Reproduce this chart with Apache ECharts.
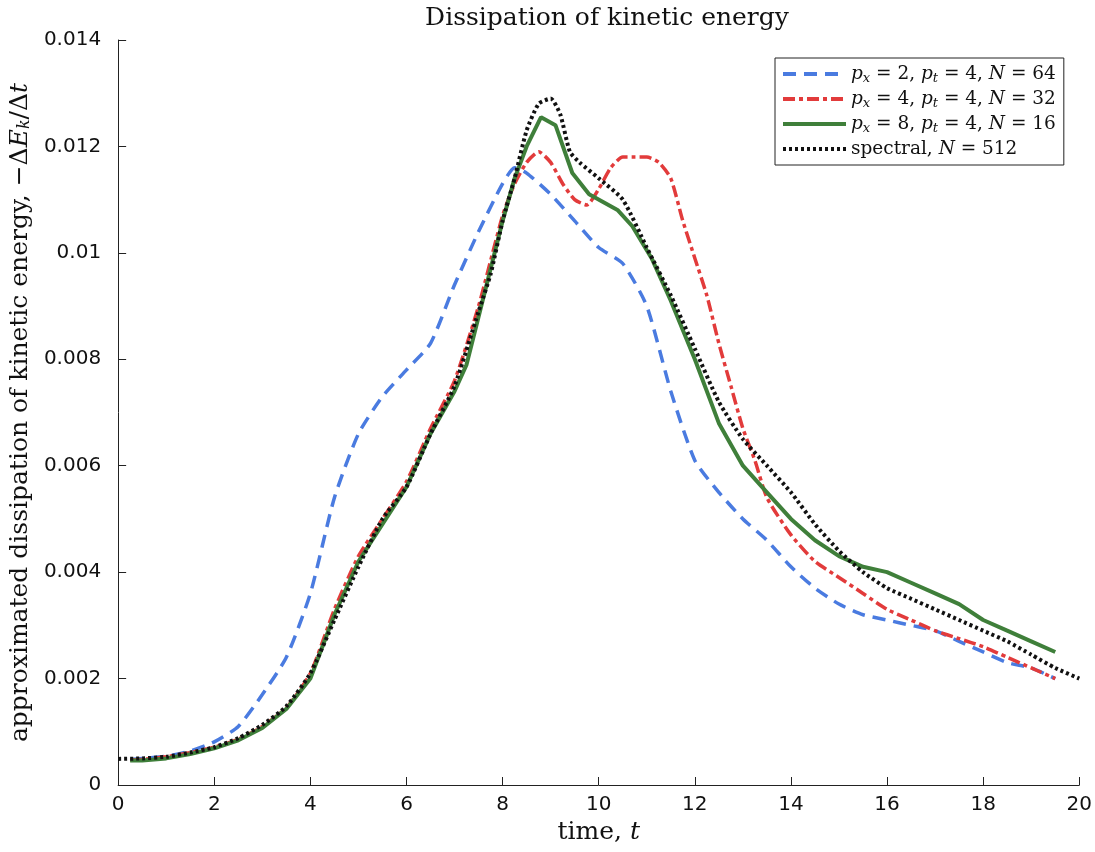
<!DOCTYPE html>
<html>
<head>
<meta charset="utf-8">
<script src="https://cdn.jsdelivr.net/npm/echarts@6/dist/echarts.min.js"></script>
<style>
html,body{margin:0;padding:0;background:#fff;}
#chart{width:1095px;height:852px;}
</style>
</head>
<body>
<div id="chart"></div>
<script>
// ---- data ----
const xTicks = [0, 2, 4, 6, 8, 10, 12, 14, 16, 18, 20];
const yTicks = [0, 0.002, 0.004, 0.006, 0.008, 0.01, 0.012, 0.014];

const seriesNames = ['px2', 'px4', 'px8', 'spectral'];
const legendLabels = [
  '{i|p}{s|x}{r| = 2, }{i|p}{s|t}{r| = 4, }{i|N}{r| = 64}',
  '{i|p}{s|x}{r| = 4, }{i|p}{s|t}{r| = 4, }{i|N}{r| = 32}',
  '{i|p}{s|x}{r| = 8, }{i|p}{s|t}{r| = 4, }{i|N}{r| = 16}',
  '{r|spectral, }{i|N}{r| = 512}'
];

const tBlue = [0.25,0.5,1,1.5,2,2.5,3,3.5,4,4.5,5,5.5,6,6.5,7,7.5,8,8.25,8.5,9,9.5,10,10.5,11,11.5,12,12.5,13,13.5,14,14.5,15,15.5,16,16.5,17,17.5,18,18.5,19,19.5];
const vBlue = [0.00048,0.00050,0.00054,0.00064,0.00081,0.0011,0.0017,0.0024,0.0036,0.0054,0.0066,0.0073,0.0078,0.0083,0.0094,0.0104,0.0113,0.0116,0.0115,0.0111,0.0106,0.0101,0.0098,0.0090,0.0074,0.0061,0.0055,0.0050,0.0046,0.0041,0.0037,0.0034,0.0032,0.0031,0.0030,0.0029,0.0027,0.0025,0.0023,0.0022,0.0020];

const tRed = [0.25,0.5,1,1.5,2,2.5,3,3.5,4,4.5,5,5.5,6,6.5,7,7.5,8,8.25,8.5,8.75,9,9.25,9.5,9.75,10,10.25,10.5,10.75,11,11.25,11.5,11.75,12,12.25,12.5,12.75,13,13.25,13.5,14,14.5,15,15.5,16,16.5,17,17.5,18,18.5,19,19.5];
const vRed = [0.00047,0.00048,0.00053,0.00061,0.00071,0.00086,0.0011,0.00145,0.0021,0.0033,0.0043,0.0050,0.0057,0.0067,0.0076,0.0090,0.0107,0.0113,0.0117,0.0119,0.0117,0.0113,0.0110,0.0109,0.0112,0.0116,0.0118,0.0118,0.0118,0.0117,0.0114,0.0106,0.0099,0.0092,0.0083,0.0075,0.0067,0.0061,0.0054,0.0047,0.0042,0.0039,0.0036,0.0033,0.0031,0.0029,0.00275,0.0026,0.0024,0.0022,0.0020];

const tGreen = [0.25,0.5,1,1.5,2,2.5,3,3.5,4,4.5,5,5.5,6,6.5,6.75,7,7.25,7.5,8,8.25,8.5,8.8,9.1,9.45,9.8,10.1,10.4,10.7,11.1,11.5,12,12.5,13,13.5,14,14.5,15,15.5,16,16.5,17,17.5,18,18.5,19,19.5];
const vGreen = [0.00046,0.00046,0.0005,0.00058,0.00069,0.00084,0.00107,0.00143,0.0020,0.0032,0.0042,0.0049,0.0056,0.0066,0.0070,0.0074,0.0079,0.0088,0.0106,0.0114,0.0120,0.01255,0.0124,0.0115,0.0111,0.01095,0.0108,0.0105,0.0099,0.0091,0.0080,0.0068,0.0060,0.0055,0.0050,0.0046,0.0043,0.0041,0.0040,0.0038,0.0036,0.0034,0.0031,0.0029,0.0027,0.0025];

const tBlack = [0,0.5,1,1.5,2,2.5,3,3.5,4,4.5,5,5.5,6,6.5,7,7.5,7.75,8,8.25,8.5,8.75,9,9.2,9.4,9.6,10,10.5,11,11.5,12,12.5,13,13.5,14,14.5,15,15.5,16,16.5,17,17.5,18,18.5,19,19.5,20];
const vBlack = [0.00049,0.0005,0.00053,0.00061,0.00071,0.00088,0.00113,0.00148,0.0021,0.0031,0.0041,0.0050,0.0056,0.0066,0.0075,0.0089,0.0096,0.0106,0.0114,0.0123,0.0128,0.0129,0.0126,0.0119,0.0117,0.0114,0.0110,0.0101,0.0092,0.0082,0.0072,0.0065,0.0060,0.0055,0.0049,0.0044,0.0040,0.0037,0.0035,0.0033,0.0031,0.0029,0.0027,0.00245,0.0022,0.0020];

// ---- build ----
const pairs = (t, v) => t.map((x, i) => [x, v[i]]);
const serif = 'DejaVu Serif';
const sans = 'DejaVu Sans';

const chart = echarts.init(document.getElementById('chart'), null, {renderer: 'canvas'});

const richLegend = {
  r: {fontFamily: serif, fontSize: 18.5, color: '#111'},
  i: {fontFamily: serif, fontStyle: 'italic', fontSize: 18.5, color: '#111'},
  s: {fontFamily: serif, fontStyle: 'italic', fontSize: 13, color: '#111', verticalAlign: 'bottom', padding: [7, 0, 0, 0]}
};

const option = {
  backgroundColor: '#fff',
  animation: false,
  title: {
    text: 'Dissipation of kinetic energy',
    left: 602, textAlign: 'center', top: 1,
    textStyle: {fontFamily: serif, fontWeight: 'normal', fontSize: 25, color: '#111'}
  },
  grid: {left: 118, right: 15, top: 40, bottom: 67, containLabel: false},
  legend: {
    orient: 'vertical',
    left: 775, top: 58,
    padding: [5, 8, 5, 6],
    itemGap: 3,
    itemWidth: 63, itemHeight: 1,
    borderColor: '#222', borderWidth: 1,
    backgroundColor: '#fff',
    itemStyle: {opacity: 0},
    lineStyle: {width: 4},
    data: seriesNames,
    formatter: name => legendLabels[seriesNames.indexOf(name)],
    textStyle: {rich: richLegend, lineHeight: 22}
  },
  xAxis: {
    type: 'value', min: xTicks[0], max: xTicks[xTicks.length - 1], interval: 2,
    name: '{n|time, }{i|t}', nameLocation: 'middle', nameGap: 26,
    nameTextStyle: {rich: {
      n: {fontFamily: serif, fontSize: 25, color: '#111'},
      i: {fontFamily: serif, fontStyle: 'italic', fontSize: 25, color: '#111'}
    }},
    axisLine: {show: true, lineStyle: {color: '#222', width: 1}},
    axisTick: {show: true, inside: true, length: 8, lineStyle: {color: '#222'}},
    axisLabel: {fontFamily: sans, fontSize: 20, color: '#111', margin: 10},
    splitLine: {show: false}
  },
  yAxis: {
    type: 'value', min: yTicks[0], max: yTicks[yTicks.length - 1], interval: 0.002,
    name: '{n|approximated dissipation of kinetic energy, −Δ}{i|E}{s|k}{n|/Δ}{i|t}',
    nameLocation: 'middle', nameGap: 76, nameRotate: 90,
    nameTextStyle: {rich: {
      n: {fontFamily: serif, fontSize: 25, color: '#111'},
      i: {fontFamily: serif, fontStyle: 'italic', fontSize: 25, color: '#111'},
      s: {fontFamily: serif, fontStyle: 'italic', fontSize: 16, color: '#111', verticalAlign: 'bottom', padding: [9, 0, 0, 0]}
    }},
    axisLine: {show: true, lineStyle: {color: '#222', width: 1}},
    axisTick: {show: true, inside: true, length: 8, lineStyle: {color: '#222'}},
    axisLabel: {fontFamily: sans, fontSize: 20, color: '#111', margin: 17,
      formatter: v => String(+v.toFixed(3))},
    splitLine: {show: false}
  },
  series: [
    {
      name: seriesNames[0], type: 'line', data: pairs(tBlue, vBlue),
      showSymbol: false, symbol: 'none', smooth: 0.2,
      lineStyle: {color: '#4a7be0', width: 3.5, type: [13, 8]},
      itemStyle: {color: '#4a7be0'}
    },
    {
      name: seriesNames[1], type: 'line', data: pairs(tRed, vRed),
      showSymbol: false, symbol: 'none', smooth: 0.2,
      lineStyle: {color: '#e23b3b', width: 3.5, type: [12, 4, 4, 4]},
      itemStyle: {color: '#e23b3b'}
    },
    {
      name: seriesNames[2], type: 'line', data: pairs(tGreen, vGreen),
      showSymbol: false, symbol: 'none', smooth: false,
      lineStyle: {color: '#3f7f3a', width: 4, type: 'solid'},
      itemStyle: {color: '#3f7f3a'}
    },
    {
      name: seriesNames[3], type: 'line', data: pairs(tBlack, vBlack),
      showSymbol: false, symbol: 'none', smooth: 0.2,
      lineStyle: {color: '#111', width: 4, type: [3, 3]},
      itemStyle: {color: '#111'}
    }
  ]
};
chart.setOption(option);
</script>
</body>
</html>
